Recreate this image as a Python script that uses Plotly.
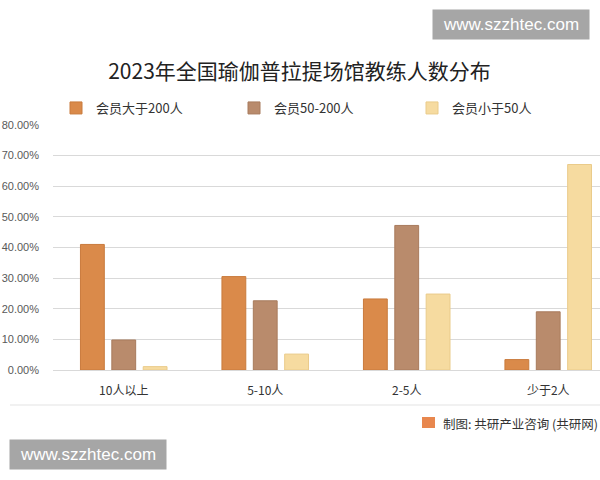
import plotly.graph_objects as go

categories = ["10人以上", "5-10人", "2-5人", "少于2人"]
series_names = ["会员大于200人", "会员50-200人", "会员小于50人"]
gt200 = [41.0, 30.5, 23.2, 3.4]
mid50_200 = [9.8, 22.6, 47.2, 19.0]
lt50 = [1.1, 5.2, 24.8, 67.1]
y_ticks = [0, 10, 20, 30, 40, 50, 60, 70, 80]

fills = ["#DA8A4A", "#B98B6C", "#F6DBA0"]
lines = ["#C97B3D", "#A87B5D", "#EACB8A"]

FONT = "Noto Sans CJK SC"
L, T, B = 53, 125, 110
PW, PH = 600 - L, 480 - T - B


def px_x(x):
    return (x - L) / PW


def px_y(y):
    return (480 - B - y) / PH


fig = go.Figure()
for name, vals, fc, lc in zip(series_names, [gt200, mid50_200, lt50], fills, lines):
    fig.add_trace(go.Bar(
        x=categories, y=vals, name=name,
        marker=dict(color=fc, line=dict(color=lc, width=1)),
    ))

fig.update_layout(
    width=600, height=480,
    paper_bgcolor="white", plot_bgcolor="white",
    margin=dict(l=L, r=0, t=T, b=B, autoexpand=False),
    barmode="group", bargap=0.335, bargroupgap=0.24,
    font=dict(family=FONT, color="#333333"),
    title=dict(text="2023年全国瑜伽普拉提场馆教练人数分布", x=299.5/600, xanchor="center",
               y=1 - 72/480, yanchor="middle",
               font=dict(size=21, color="#222222", family=FONT)),
    legend=dict(orientation="h", x=px_x(56), xanchor="left", y=px_y(108), yanchor="middle",
                font=dict(size=13, color="#333333"), entrywidth=133,
                bgcolor="rgba(0,0,0,0)"),
    showlegend=True,
)
fig.update_xaxes(range=[-0.5, 3.366], showgrid=False, showline=False, ticks="",
                 tickfont=dict(size=12, color="#333333"), ticklabelstandoff=12,
                 automargin=False, fixedrange=True)
fig.update_yaxes(range=[0, 80], tickvals=y_ticks,
                 ticktext=[f"{v:.2f}%" for v in y_ticks],
                 showgrid=True, gridcolor="#D9D9D9", gridwidth=1,
                 zeroline=True, zerolinecolor="#D9D9D9", zerolinewidth=1,
                 showline=False, ticks="", ticklabelstandoff=13, automargin=False,
                 tickfont=dict(size=11, color="#595959", family="Liberation Sans"))

# frame bottom line
fig.add_shape(type="line", xref="paper", yref="paper", x0=px_x(10), x1=1.0,
              y0=px_y(405), y1=px_y(405), line=dict(color="#E3E3E3", width=1))

# source icon and text
fig.add_shape(type="rect", xref="paper", yref="paper",
              x0=px_x(422), x1=px_x(435), y0=px_y(428), y1=px_y(417),
              fillcolor="#E8874E", line=dict(width=0))
fig.add_annotation(xref="paper", yref="paper", x=px_x(441), y=px_y(423),
                   xanchor="left", yanchor="middle", showarrow=False,
                   text="制图: 共研产业咨询 (共研网)", font=dict(size=12.5, color="#333333"))

# site boxes
for (x0, y0) in [(433, 10), (10, 440)]:
    fig.add_annotation(xref="paper", yref="paper",
                       x=px_x(x0 + 78), y=px_y(y0 + 14.5),
                       xanchor="center", yanchor="middle", showarrow=False,
                       text="www.szzhtec.com", bgcolor="#A6A6A6", width=148, height=21,
                       borderpad=4,
                       font=dict(size=17, color="white", family="Liberation Sans"))

fig.write_html("out.html", config={"displayModeBar": False},
               post_script="document.body.style.margin='0';")
